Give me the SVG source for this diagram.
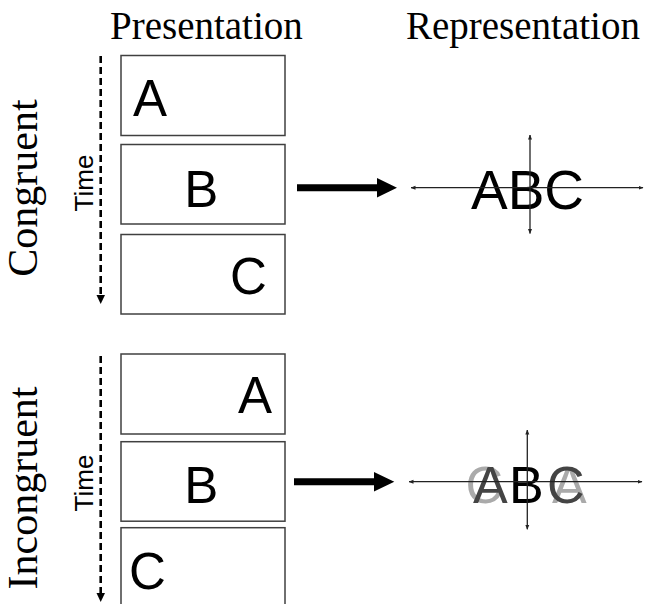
<svg xmlns="http://www.w3.org/2000/svg" width="646" height="604" viewBox="0 0 646 604">
<style>
.title{font-family:"Liberation Serif","Times New Roman",serif;font-size:39px;fill:#000}
.side{font-family:"Liberation Serif","Times New Roman",serif;font-size:42px;fill:#000}
.time{font-family:"Liberation Sans",Arial,sans-serif;font-size:26px;fill:#000}
.box{fill:#fff;stroke:#404040;stroke-width:1.5}
.let{font-family:"Liberation Sans",Arial,sans-serif;font-size:51px;fill:#000}
.rep{font-family:"Liberation Sans",Arial,sans-serif;fill:#000}
.axis{stroke:#222;stroke-width:1.3;fill:none;marker-start:url(#ah);marker-end:url(#ah)}
.dash{stroke:#000;stroke-width:2.6;stroke-dasharray:7 4;fill:none}
.thick{fill:#000}
</style>
<defs>
<marker id="ah" viewBox="0 0 10 10" refX="9" refY="5" markerWidth="5" markerHeight="5" markerUnits="userSpaceOnUse" orient="auto-start-reverse">
<path d="M0,1 L10,5 L0,9 Z" fill="#222"/>
</marker>
</defs>

<text class="title" x="110" y="39">Presentation</text>
<text class="title" x="406" y="39">Representation</text>
<text class="side" transform="translate(37,188) rotate(-90)" text-anchor="middle">Congruent</text>
<text class="side" transform="translate(37,488) rotate(-90)" text-anchor="middle">Incongruent</text>

<g id="time-congruent">
<text class="time" transform="translate(92.5,183) rotate(-90)" text-anchor="middle">Time</text>
</g>
<g id="time-incongruent">
<text class="time" transform="translate(92.5,483) rotate(-90)" text-anchor="middle">Time</text>
</g>

<g id="c-box-A"><rect class="box" x="121" y="55.5" width="164" height="80"/><text class="let" x="133" y="116">A</text></g>
<g id="c-box-B"><rect class="box" x="121" y="144.5" width="164" height="79.5"/><text class="let" x="184.3" y="206.7">B</text></g>
<g id="c-box-C"><rect class="box" x="121" y="234.5" width="164" height="79.5"/><text class="let" x="230" y="294">C</text></g>

<g id="i-box-A"><rect class="box" x="121" y="354" width="164" height="80"/><text class="let" x="238" y="413.3">A</text></g>
<g id="i-box-B"><rect class="box" x="121" y="441.7" width="164" height="79.5"/><text class="let" x="184.3" y="503">B</text></g>
<g id="i-box-C"><rect class="box" x="121" y="527.7" width="164" height="80"/><text class="let" x="129" y="589">C</text></g>

<g id="rep-congruent">
<text class="rep" x="471" y="209" font-size="55">ABC</text>
<line class="axis" x1="411" y1="187.7" x2="643" y2="187.7"/>
<line class="axis" x1="530" y1="135" x2="530" y2="233.5"/>
</g>

<g id="rep-incongruent">
<text class="rep" x="465.5" y="503.3" font-size="52" style="fill:#aaa">C</text>
<text class="rep" x="552" y="503.3" font-size="52" style="fill:#aaa">A</text>
<text class="rep" x="473" y="503.3" font-size="52" style="fill:#444">A</text>
<text class="rep" x="509" y="503.3" font-size="52" style="fill:#000">B</text>
<text class="rep" x="547" y="503.3" font-size="52" style="fill:#444">C</text>
<line class="axis" x1="409" y1="481.7" x2="642" y2="481.7"/>
<line class="axis" x1="527.3" y1="430" x2="527.3" y2="529.3"/>
</g>

<g id="connectors">
<line class="dash" x1="100.7" y1="56" x2="100.7" y2="296"/>
<path d="M96.5,295 L105,295 L100.7,304 Z"/>
<line class="dash" x1="100.7" y1="356" x2="100.7" y2="594"/>
<path d="M96.5,593 L105,593 L100.7,602 Z"/>
<path class="thick" d="M297,184.2 L377,184.2 L377,178 L397,187.7 L377,197.4 L377,191.2 L297,191.2 Z"/>
<path class="thick" d="M294,478.2 L374,478.2 L374,472 L394.3,481.7 L374,491.4 L374,485.2 L294,485.2 Z"/>
</g>
</svg>
